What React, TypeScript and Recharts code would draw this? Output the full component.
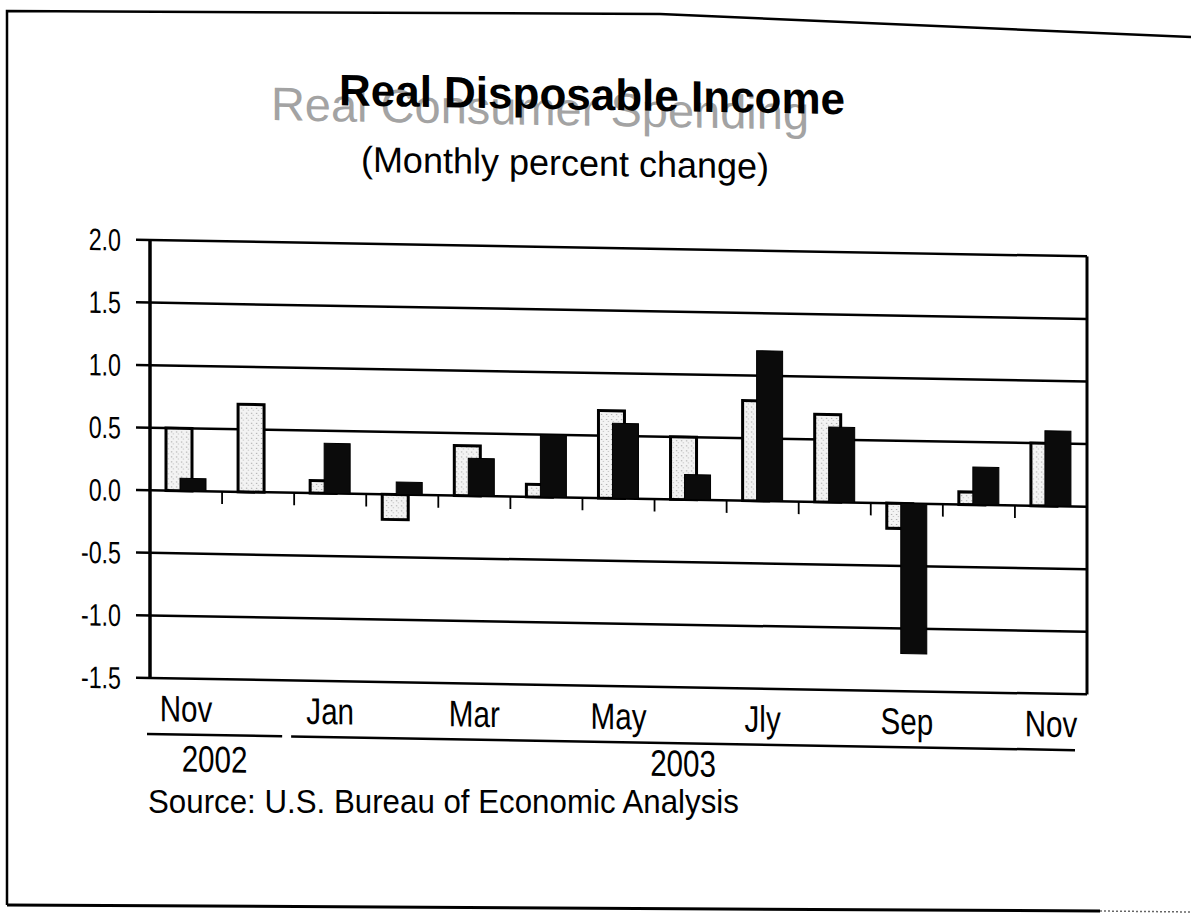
import React from 'react';
import { BarChart, Bar, XAxis, YAxis, CartesianGrid, ReferenceLine } from 'recharts';

// months shown on the chart, Nov 2002 .. Nov 2003
const MONTHS = ['Nov', 'Dec', 'Jan', 'Feb', 'Mar', 'Apr', 'May', 'Jun', 'Jly', 'Aug', 'Sep', 'Oct', 'Nov'];
const YEARS = ['2002', '2002', '2003', '2003', '2003', '2003', '2003', '2003', '2003', '2003', '2003', '2003', '2003'];
// monthly percent change
const SPENDING = [0.5, 0.7, 0.1, -0.2, 0.4, 0.1, 0.7, 0.5, 0.8, 0.7, -0.2, 0.1, 0.5];
const INCOME = [0.1, 0.0, 0.4, 0.1, 0.3, 0.5, 0.6, 0.2, 1.2, 0.6, -1.2, 0.3, 0.6];
const Y_TICKS = [-1.5, -1.0, -0.5, 0.0, 0.5, 1.0, 1.5, 2.0];

const FONT = '"Liberation Sans", Arial, Helvetica, sans-serif';

const W = 1191;
const H = 920;
const PLOT_LEFT = 150;
const PLOT_TOP = 240;
const PLOT_RIGHT = 1087;
const PLOT_BOTTOM = 678;
const PLOT_W = PLOT_RIGHT - PLOT_LEFT;
const BAND = PLOT_W / MONTHS.length;

const data = MONTHS.map((m, i) => ({
  key: `${m} ${YEARS[i]}`,
  pos: i + 0.5,
  spending: SPENDING[i],
  income: INCOME[i],
}));

// year groups for the brackets under the month labels
const yearGroups = YEARS.reduce((acc: { year: string; first: number; last: number }[], y, i) => {
  const g = acc[acc.length - 1];
  if (g && g.year === y) g.last = i;
  else acc.push({ year: y, first: i, last: i });
  return acc;
}, []);

// tick marks on the zero line sit between months
const boundaries = MONTHS.slice(1).map((_, i) => i + 1);

const YTick = ({ x, y, payload }: any) => (
  <text
    transform={`translate(${x},${y}) scale(0.75,1)`}
    textAnchor="end"
    dy="0.36em"
    fontSize={31}
    fontFamily={FONT}
    fill="#000"
  >
    {Number(payload.value).toFixed(1)}
  </text>
);

const MonthTick = ({ x, index }: any) => {
  const group = yearGroups.find((g) => g.first === index);
  let bracket = null;
  if (group) {
    const x1 = x - BAND / 2 - 3;
    const x2 = x + (group.last - group.first) * BAND + BAND / 2 - 12;
    bracket = (
      <g>
        <line x1={x1} x2={x2} y1={734} y2={734} stroke="#000" strokeWidth={2.5} />
        <text
          transform={`translate(${(x1 + x2) / 2},${group.first === 0 ? 771 : 767}) scale(0.8,1)`}
          textAnchor="middle"
          fontSize={37}
          fontFamily={FONT}
          fill="#000"
        >
          {group.year}
        </text>
      </g>
    );
  }
  return (
    <g>
      {index % 2 === 0 && (
        <text
          transform={`translate(${x},721) scale(0.8,1)`}
          textAnchor="middle"
          fontSize={37}
          fontFamily={FONT}
          fill="#000"
        >
          {MONTHS[index]}
        </text>
      )}
      {bracket}
    </g>
  );
};

export default function App() {
  return (
    <div style={{ position: 'absolute', left: 0, top: 0, width: W, height: H, background: '#fff', overflow: 'hidden' }}>
      {/* scanned page border and source line */}
      <svg width={W} height={H} style={{ position: 'absolute', left: 0, top: 0 }}>
        <path d="M7 905 L7 11 L660 14 L1191 37" fill="none" stroke="#000" strokeWidth={2.5} />
        <path d="M7 905 L1100 911" fill="none" stroke="#000" strokeWidth={3} />
        <path d="M1100 911 L1191 912" fill="none" stroke="#666" strokeWidth={1.5} strokeDasharray="2 2" />
        <text transform="translate(148,813) scale(0.92,1)" fontSize={34} fontFamily={FONT} fill="#000">
          Source:  U.S. Bureau of Economic Analysis
        </text>
      </svg>

      <div style={{ position: 'absolute', left: 0, top: 0, width: W, height: H, transform: 'skewY(1deg)', transformOrigin: `${PLOT_LEFT}px ${PLOT_TOP}px` }}>
        <svg width={W} height={H} style={{ position: 'absolute', left: 0, top: 0 }}>
          <text x={540} y={118} textAnchor="middle" fontSize={47} fontFamily={FONT} fill="#a3a3a3">
            Real Consumer Spending
          </text>
          <text x={592} y={102} textAnchor="middle" fontSize={44} fontWeight="bold" fontFamily={FONT} fill="#000">
            Real Disposable Income
          </text>
          <text x={565} y={168} textAnchor="middle" fontSize={36} fontFamily={FONT} fill="#000">
            (Monthly percent change)
          </text>
        </svg>

        <div style={{ position: 'absolute', left: 0, top: 0 }}>
          <BarChart
            width={W}
            height={H}
            data={data}
            margin={{ top: PLOT_TOP, right: W - PLOT_RIGHT, left: PLOT_LEFT - 60, bottom: H - PLOT_BOTTOM - 30 }}
            barSize={26}
            barGap={-12}
          >
            <defs>
              <pattern id="dither" width={5} height={5} patternUnits="userSpaceOnUse">
                <rect width={5} height={5} fill="#f3f3f3" />
                <rect x={1} y={1} width={1} height={1} fill="#8a8a8a" />
                <rect x={3} y={3} width={1} height={1} fill="#b5b5b5" />
              </pattern>
            </defs>
            <CartesianGrid vertical={false} stroke="#000" strokeWidth={2.5} />
            <XAxis
              dataKey="key"
              interval={0}
              axisLine={false}
              tickLine={false}
              height={30}
              tick={<MonthTick />}
            />
            <XAxis
              xAxisId="num"
              dataKey="pos"
              type="number"
              domain={[0, MONTHS.length]}
              allowDataOverflow
              hide
            />
            <YAxis
              type="number"
              domain={[-1.5, 2]}
              ticks={Y_TICKS}
              width={60}
              axisLine={{ stroke: '#000', strokeWidth: 3.5 }}
              tickLine={{ stroke: '#000', strokeWidth: 2.5 }}
              tickSize={14}
              tickMargin={15}
              tick={<YTick />}
            />
            {/* right edge of the plot frame */}
            <ReferenceLine
              xAxisId="num"
              segment={[{ x: MONTHS.length, y: Y_TICKS[0] }, { x: MONTHS.length, y: Y_TICKS[Y_TICKS.length - 1] }]}
              stroke="#000"
              strokeWidth={3}
              ifOverflow="visible"
            />
            {boundaries.map((b) => (
              <ReferenceLine
                key={b}
                xAxisId="num"
                segment={[{ x: b, y: 0 }, { x: b, y: -0.1 }]}
                stroke="#000"
                strokeWidth={1.8}
                ifOverflow="visible"
              />
            ))}
            <Bar dataKey="spending" fill="url(#dither)" stroke="#000" strokeWidth={3} isAnimationActive={false} />
            <Bar dataKey="income" fill="#0b0b0b" stroke="#000" strokeWidth={1} isAnimationActive={false} />
          </BarChart>
        </div>
      </div>
    </div>
  );
}
